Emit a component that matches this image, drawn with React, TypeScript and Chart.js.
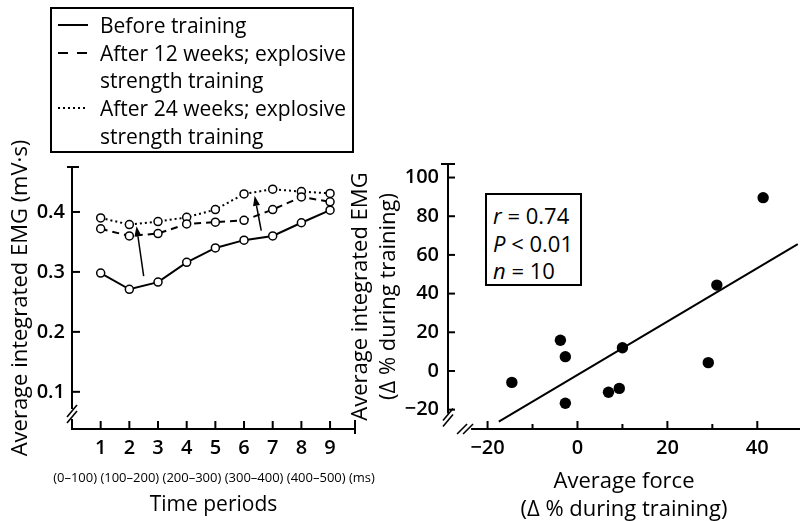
import React, { useEffect, useRef } from "react";
import { Chart, registerables } from "chart.js";

Chart.register(...registerables);

const FONT = '"Open Sans", "Noto Sans", sans-serif';

// ---------- Left panel: EMG over time periods ----------
const PERIODS = [1, 2, 3, 4, 5, 6, 7, 8, 9];
const BEFORE = [0.298, 0.271, 0.283, 0.316, 0.34, 0.353, 0.36, 0.382, 0.403];
const AFTER_12 = [0.372, 0.36, 0.364, 0.38, 0.383, 0.386, 0.404, 0.425, 0.417];
const AFTER_24 = [0.39, 0.379, 0.384, 0.391, 0.404, 0.43, 0.438, 0.434, 0.431];
const LEFT_Y_TICKS = [0.1, 0.2, 0.3, 0.4];
const LEFT_Y_MIN = 0.038;
const LEFT_Y_MAX = 0.475;
const LEFT_X_MAX = 9.87;
const LEFT_Y_BREAK = 0.063;
const PERIOD_RANGES = "(0–100) (100–200) (200–300) (300–400) (400–500) (ms)";
const ARROW_FROM_X = [2.5, 6.6];
const ARROW_FROM_Y = [0.293, 0.369];
const ARROW_TO_X = [2.25, 6.37];
const ARROW_TO_Y = [0.376, 0.427];

const LEGEND_LABELS = [
  ["Before training"],
  ["After 12 weeks; explosive", "strength training"],
  ["After 24 weeks; explosive", "strength training"],
];
const LEGEND_DASH = ["", "10 9", "2 3"];

// ---------- Right panel: force vs EMG change ----------
const FORCE_CHANGE = [41.3, 31.0, 10.0, -3.8, -2.7, -14.6, -2.7, 6.9, 9.3, 29.1];
const EMG_CHANGE = [89.6, 44.4, 12.0, 15.9, 7.4, -5.9, -16.7, -11.0, -9.0, 4.3];
const FIT_SLOPE = 1.38;
const FIT_INTERCEPT = -2.05;
const FIT_X = [-17.5, 49];
const RIGHT_X_TICKS = [-20, 0, 20, 40];
const RIGHT_X_MINOR = [-10, 10, 30];
const RIGHT_Y_TICKS = [-20, 0, 20, 40, 60, 80, 100];
const RIGHT_X_MIN = -28.8;
const RIGHT_X_MAX = 49.5;
const RIGHT_Y_MIN = -30;
const RIGHT_Y_MAX = 107;
const RIGHT_Y_BREAK = -24;
const RIGHT_X_BREAK = -25;
const STATS = [
  ["r", " = 0.74"],
  ["P", " < 0.01"],
  ["n", " = 10"],
];

function seg(ctx: CanvasRenderingContext2D, x1: number, y1: number, x2: number, y2: number) {
  ctx.beginPath();
  ctx.moveTo(x1, y1);
  ctx.lineTo(x2, y2);
  ctx.stroke();
}

const leftAxesPlugin = {
  id: "leftAxes",
  beforeDatasetsDraw(chart: any) {
    const { ctx, chartArea, scales } = chart;
    const { left, right, top, bottom } = chartArea;
    const x = scales.x;
    const y = scales.y;
    ctx.save();
    ctx.strokeStyle = "#000";
    ctx.lineWidth = 2;
    const yb = y.getPixelForValue(LEFT_Y_BREAK);
    seg(ctx, left, top, left, yb - 5);
    seg(ctx, left, yb + 5, left, bottom + 1);
    seg(ctx, left - 1, bottom, right, bottom);
    seg(ctx, left - 5, top, left + 7, top);
    LEFT_Y_TICKS.forEach((v) => {
      const py = y.getPixelForValue(v);
      seg(ctx, left, py, left + 8, py);
    });
    PERIODS.forEach((v) => {
      const px = x.getPixelForValue(v);
      seg(ctx, px, bottom, px, bottom - 8);
    });
    seg(ctx, right, bottom - 9, right, bottom + 5);
    ctx.lineWidth = 1.6;
    [-3, 3].forEach((d) => seg(ctx, left - 5, yb + d + 6, left + 5, yb + d - 6));
    ctx.restore();
  },
  afterDatasetsDraw(chart: any) {
    const { ctx, scales } = chart;
    const x = scales.x;
    const y = scales.y;
    ctx.save();
    ctx.strokeStyle = "#000";
    ctx.fillStyle = "#000";
    ctx.lineWidth = 1.5;
    ARROW_FROM_X.forEach((_, i) => {
      const x1 = x.getPixelForValue(ARROW_FROM_X[i]);
      const y1 = y.getPixelForValue(ARROW_FROM_Y[i]);
      const x2 = x.getPixelForValue(ARROW_TO_X[i]);
      const y2 = y.getPixelForValue(ARROW_TO_Y[i]);
      const ang = Math.atan2(y2 - y1, x2 - x1);
      const hl = 10;
      const hw = 3.5;
      const bx = x2 - hl * Math.cos(ang);
      const by = y2 - hl * Math.sin(ang);
      seg(ctx, x1, y1, bx, by);
      ctx.beginPath();
      ctx.moveTo(x2, y2);
      ctx.lineTo(bx + hw * Math.sin(ang), by - hw * Math.cos(ang));
      ctx.lineTo(bx - hw * Math.sin(ang), by + hw * Math.cos(ang));
      ctx.closePath();
      ctx.fill();
    });
    ctx.restore();
  },
};

const rightAxesPlugin = {
  id: "rightAxes",
  beforeDatasetsDraw(chart: any) {
    const { ctx, chartArea, scales } = chart;
    const { left, right, top, bottom } = chartArea;
    const x = scales.x;
    const y = scales.y;
    ctx.save();
    ctx.strokeStyle = "#000";
    ctx.lineWidth = 2;
    const yb = y.getPixelForValue(RIGHT_Y_BREAK);
    const xb = x.getPixelForValue(RIGHT_X_BREAK);
    seg(ctx, left, top, left, yb - 4);
    seg(ctx, left - 7, top, left + 7, top);
    seg(ctx, xb + 6, bottom, right, bottom);
    RIGHT_Y_TICKS.forEach((v) => {
      const py = y.getPixelForValue(v);
      seg(ctx, left, py, left + 7, py);
    });
    RIGHT_X_TICKS.forEach((v) => {
      const px = x.getPixelForValue(v);
      seg(ctx, px, bottom, px, bottom - 8);
    });
    RIGHT_X_MINOR.forEach((v) => {
      const px = x.getPixelForValue(v);
      seg(ctx, px, bottom, px, bottom - 5);
    });
    ctx.lineWidth = 1.6;
    [-3, 3].forEach((d) => seg(ctx, left - 5, yb + d + 6, left + 5, yb + d - 6));
    [-3, 3].forEach((d) => seg(ctx, xb + d - 5, bottom + 5, xb + d + 5, bottom - 5));
    ctx.restore();
  },
};

function leftConfig(): any {
  const pts = (arr: number[]) => PERIODS.map((p, i) => ({ x: p, y: arr[i] }));
  const common = {
    borderColor: "#000",
    borderWidth: 2,
    pointRadius: 4,
    pointBackgroundColor: "#fff",
    pointBorderColor: "#000",
    pointBorderWidth: 1.5,
    fill: false,
    tension: 0,
  };
  return {
    type: "line",
    data: {
      datasets: [
        { ...common, label: "Before training", data: pts(BEFORE) },
        { ...common, label: "After 12 weeks; explosive strength training", data: pts(AFTER_12), borderDash: [7, 5] },
        { ...common, label: "After 24 weeks; explosive strength training", data: pts(AFTER_24), borderDash: [2, 3] },
      ],
    },
    options: {
      animation: false,
      responsive: false,
      layout: { autoPadding: false, padding: { left: 0, top: 167, right: 445, bottom: 0 } },
      plugins: { legend: { display: false }, tooltip: { enabled: false } },
      scales: {
        x: {
          type: "linear",
          min: 0,
          max: LEFT_X_MAX,
          grid: { display: false, drawTicks: false },
          border: { display: false },
          afterBuildTicks: (s: any) => {
            s.ticks = PERIODS.map((v) => ({ value: v }));
          },
          afterFit: (s: any) => {
            s.height = 92;
          },
          ticks: { padding: 7, color: "#000", font: { family: FONT, size: 20, weight: "600" }, callback: (v: any) => String(v) },
          title: { display: true, text: "Time periods", color: "#000", font: { family: FONT, size: 21, weight: "500" }, padding: { top: 0, bottom: 3 } },
        },
        y: {
          type: "linear",
          min: LEFT_Y_MIN,
          max: LEFT_Y_MAX,
          grid: { display: false, drawTicks: false },
          border: { display: false },
          afterBuildTicks: (s: any) => {
            s.ticks = LEFT_Y_TICKS.map((v) => ({ value: v }));
          },
          afterFit: (s: any) => {
            s.width = 72;
          },
          ticks: { padding: 7, color: "#000", font: { family: FONT, size: 20, weight: "600" }, callback: (v: any) => Number(v).toFixed(1) },
          title: { display: true, text: "Average integrated EMG (mV·s)", color: "#000", font: { family: FONT, size: 22, weight: "500" }, padding: { top: 8, bottom: 0 } },
        },
      },
    },
    plugins: [leftAxesPlugin],
  };
}

function rightConfig(): any {
  return {
    type: "scatter",
    data: {
      datasets: [
        {
          label: "Subjects",
          data: FORCE_CHANGE.map((f, i) => ({ x: f, y: EMG_CHANGE[i] })),
          pointRadius: 5.7,
          pointBackgroundColor: "#000",
          pointBorderColor: "#000",
          borderWidth: 0,
        },
        {
          label: "Regression",
          data: FIT_X.map((x) => ({ x, y: FIT_INTERCEPT + FIT_SLOPE * x })),
          showLine: true,
          borderColor: "#000",
          borderWidth: 2,
          pointRadius: 0,
        },
      ],
    },
    options: {
      animation: false,
      responsive: false,
      layout: { autoPadding: false, padding: { left: 350, top: 164, right: 0, bottom: 0 } },
      plugins: { legend: { display: false }, tooltip: { enabled: false } },
      scales: {
        x: {
          type: "linear",
          min: RIGHT_X_MIN,
          max: RIGHT_X_MAX,
          grid: { display: false, drawTicks: false },
          border: { display: false },
          afterBuildTicks: (s: any) => {
            s.ticks = RIGHT_X_TICKS.map((v) => ({ value: v }));
          },
          afterFit: (s: any) => {
            s.height = 92;
          },
          ticks: { padding: 7, color: "#000", font: { family: FONT, size: 20, weight: "600" }, callback: (v: any) => (v < 0 ? "−" + Math.abs(v) : String(v)) },
          title: {
            display: true,
            text: ["Average force", "(Δ % during training)"],
            color: "#000",
            font: { family: FONT, size: 22, weight: "500", lineHeight: 1.27 },
            padding: { top: 0, bottom: -3 },
          },
        },
        y: {
          type: "linear",
          min: RIGHT_Y_MIN,
          max: RIGHT_Y_MAX,
          grid: { display: false, drawTicks: false },
          border: { display: false },
          afterBuildTicks: (s: any) => {
            s.ticks = RIGHT_Y_TICKS.map((v) => ({ value: v }));
          },
          afterFit: (s: any) => {
            s.width = 98;
          },
          ticks: { padding: 9, color: "#000", font: { family: FONT, size: 20, weight: "600" }, callback: (v: any) => (v < 0 ? "−" + Math.abs(v) : String(v)) },
          title: {
            display: true,
            text: ["Average integrated EMG", "(Δ % during training)"],
            color: "#000",
            font: { family: FONT, size: 22, weight: "500", lineHeight: 1.25 },
            padding: { top: -3, bottom: 0 },
          },
        },
      },
    },
    plugins: [rightAxesPlugin],
  };
}

export default function App() {
  const leftRef = useRef<HTMLCanvasElement>(null);
  const rightRef = useRef<HTMLCanvasElement>(null);

  useEffect(() => {
    const c1 = new Chart(leftRef.current as HTMLCanvasElement, leftConfig());
    const c2 = new Chart(rightRef.current as HTMLCanvasElement, rightConfig());
    return () => {
      c1.destroy();
      c2.destroy();
    };
  }, []);

  const rowCenters = [25, 52.5, 80, 108, 136];
  const legendRows: { text: string; dash: string | null }[] = [];
  LEGEND_LABELS.forEach((lines, i) => {
    lines.forEach((t, j) => legendRows.push({ text: t, dash: j === 0 ? LEGEND_DASH[i] : null }));
  });

  return (
    <div
      style={{
        position: "fixed",
        left: 0,
        top: 0,
        width: 800,
        height: 521,
        background: "#fff",
        overflow: "hidden",
        fontFamily: FONT,
        fontWeight: 500,
        color: "#000",
      }}
    >
      <canvas ref={leftRef} width={800} height={521} style={{ position: "absolute", left: 0, top: 0 }} />
      <canvas ref={rightRef} width={800} height={521} style={{ position: "absolute", left: 0, top: 0 }} />

      {/* Legend */}
      <div
        style={{
          position: "absolute",
          left: 50,
          top: 7,
          width: 304,
          height: 146,
          border: "2px solid #000",
          boxSizing: "border-box",
        }}
      />
      {legendRows.map((r, i) => (
        <React.Fragment key={i}>
          {r.dash !== null && (
            <svg
              width={32}
              height={6}
              style={{ position: "absolute", left: 57, top: rowCenters[i] - 3 }}
            >
              <line
                x1={1}
                y1={3}
                x2={31}
                y2={3}
                stroke="#000"
                strokeWidth={2}
                strokeDasharray={r.dash || undefined}
              />
            </svg>
          )}
          <div
            style={{
              position: "absolute",
              left: 100,
              top: rowCenters[i] - 15,
              height: 30,
              lineHeight: "30px",
              fontSize: 21,
              whiteSpace: "nowrap",
            }}
          >
            {r.text}
          </div>
        </React.Fragment>
      ))}

      {/* Time period ranges */}
      <div
        style={{
          position: "absolute",
          left: 0,
          width: 428,
          top: 468,
          lineHeight: "18px",
          fontSize: 13,
          textAlign: "center",
          whiteSpace: "nowrap",
        }}
      >
        {PERIOD_RANGES}
      </div>

      {/* Statistics box */}
      <div
        style={{
          position: "absolute",
          left: 485,
          top: 193,
          width: 97,
          height: 93,
          border: "2px solid #000",
          boxSizing: "border-box",
          background: "#fff",
          paddingLeft: 6,
          paddingTop: 7,
          fontSize: 22,
          lineHeight: "27.5px",
          whiteSpace: "nowrap",
        }}
      >
        {STATS.map(([v, rest], i) => (
          <div key={i}>
            <i>{v}</i>
            {rest}
          </div>
        ))}
      </div>
    </div>
  );
}
